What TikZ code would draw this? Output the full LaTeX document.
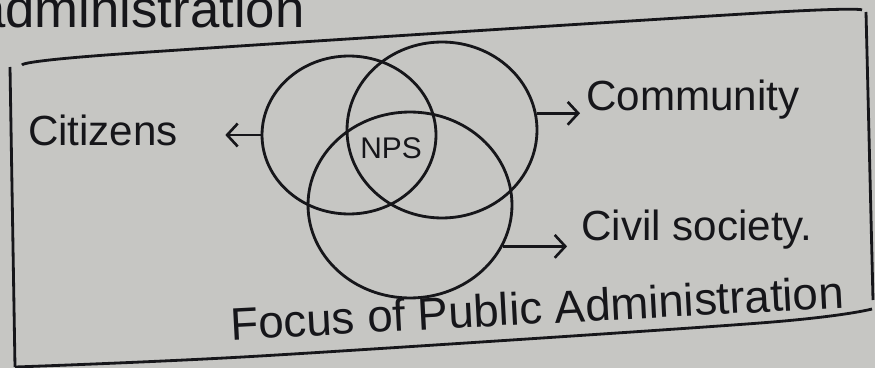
\documentclass[tikz,border=0pt]{standalone}
\usepackage{fontspec}
\setmainfont{Liberation Sans}
\usetikzlibrary{shapes.geometric,arrows.meta}
\definecolor{paperGray}{RGB}{198,198,195}
\definecolor{inkBlack}{RGB}{22,22,26}
\begin{document}
\begin{tikzpicture}[
        x=0.02cm, y=-0.02cm,
        set/.style={ellipse, draw=inkBlack, line width=1.6pt, inner sep=0pt},
        label/.style={inner sep=0pt, text=inkBlack, font=\fontsize{24}{28}\selectfont},
        arrow/.style={-{Straight Barb[length=6pt,width=13pt]}, line width=1.5pt, inkBlack},
        frame/.style={line width=1.6pt, inkBlack}
      ]
        \fill[paperGray] (0,0) rectangle (875,368);
        \clip (0,0) rectangle (875,368);
        % Heading cut off by the page edge
        \node[label, anchor=base west, font=\fontsize{30}{34}\selectfont] (head) at (-24,28) {administration};
        % Frame
        \draw[frame] plot[smooth] coordinates {(22,65) (120,54) (760,13) (862,10)};
        \draw[frame] (866,12) -- (873,300);
        \draw[frame] (10,67) -- (15,367);
        \draw[frame] plot[smooth] coordinates {(15,367) (260,356) (760,323) (872,309)};
        % Three sets
        \node[set, minimum width=3.48cm, minimum height=3.16cm] (citc) at (349,135) {};
        \node[set, minimum width=3.8cm, minimum height=3.52cm] (comc) at (442,130) {};
        \node[set, minimum width=4.08cm, minimum height=3.72cm] (civc) at (410,205) {};
        \node[label, font=\fontsize{17}{20}\selectfont] (nps) at (391,148) {NPS};
        % Labels
        \node[label] (cit) at (103,130) {Citizens};
        \node[label] (com) at (693,100) {Community};
        \node[label] (civ) at (697,230) {Civil society.};
        \node[label, anchor=base, font=\fontsize{26}{30}\selectfont, rotate=3] (focus) at (538,324) {Focus of Public Administration};
        % Arrows
        \draw[arrow, shorten >=0.94cm] (citc.west) -- (citc.west -| cit.east);
        \draw[arrow, shorten >=0.12cm] (comc.10) -- (comc.10 -| com.west);
        \draw[arrow, shorten >=0.28cm] (civc.-24) -- (civc.-24 -| civ.west);
      \end{tikzpicture}
\end{document}
